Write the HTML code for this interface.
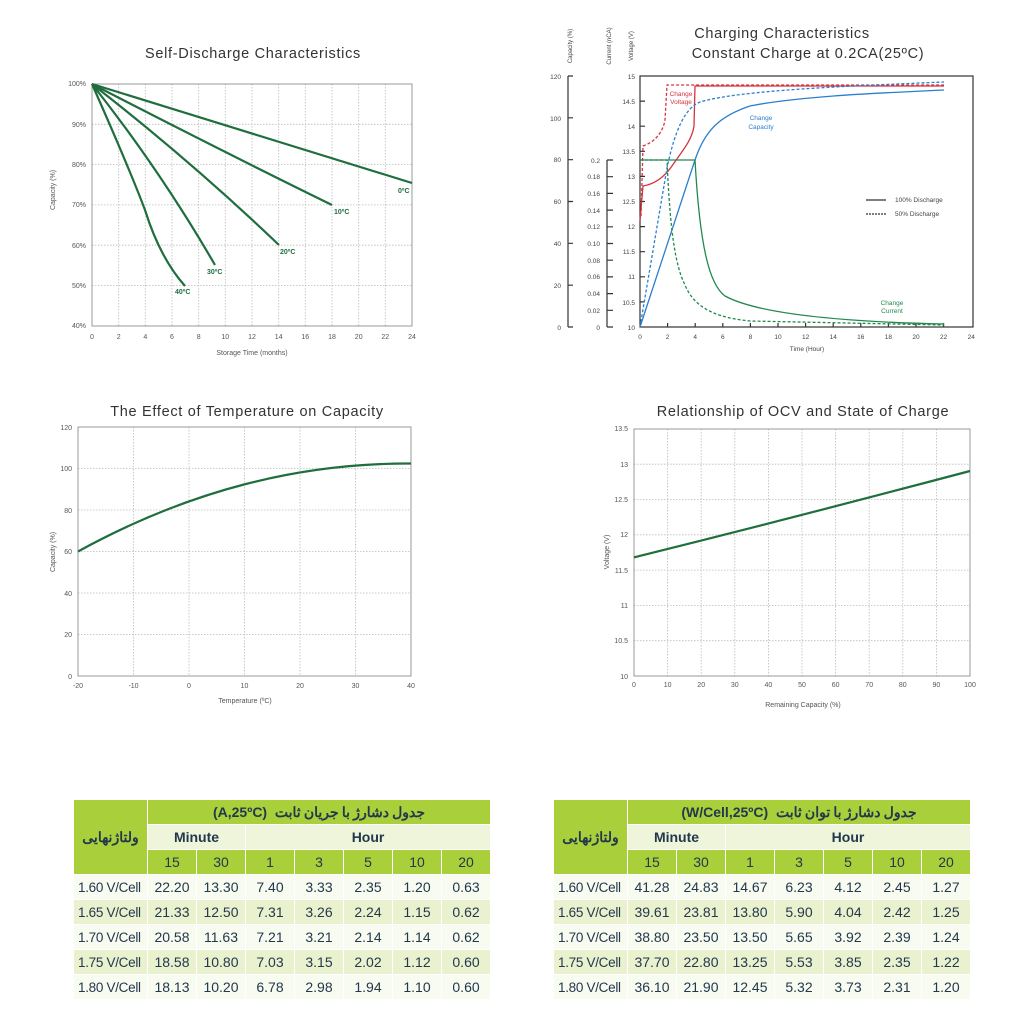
<!DOCTYPE html>
<html><head><meta charset="utf-8"><style>
body{margin:0;width:1024px;height:1024px;background:#fff;position:relative;overflow:hidden;font-family:"Liberation Sans",sans-serif}
svg{position:absolute;left:0;top:0}
.t{position:absolute;border-collapse:collapse;table-layout:fixed;font-family:"Liberation Sans","Noto Sans CJK SC",sans-serif;color:#23384d}
.t tr{height:25px}
.t td{border:1.5px solid #fff;padding:0;text-align:center;font-size:14px;white-space:nowrap;overflow:hidden}
.g{background:#a9cf3a}
.l{background:#eef5da}
.o{background:#f8fbf0}
.e{background:#e9f1cf}
.b{font-weight:bold;font-size:14.5px}
.fc{text-align:left!important;padding-left:4px!important;font-size:13.5px!important;letter-spacing:-0.3px}
</style></head><body>
<svg width="1024" height="1024" font-family="Liberation Sans, sans-serif">
<g fill="#333" font-size="14.5" text-anchor="middle" letter-spacing="0.7">
<text x="253" y="58">Self-Discharge Characteristics</text>
<text x="782" y="38">Charging Characteristics</text>
<text x="808" y="58">Constant Charge at 0.2CA(25ºC)</text>
<text x="247" y="416">The Effect of Temperature on Capacity</text>
<text x="803" y="416">Relationship of OCV and State of Charge</text>
</g>
<g stroke="#bbb" stroke-width="0.8" stroke-dasharray="1.5 1.5" fill="none">
<path d="M118.7,84V326M145.3,84V326M172,84V326M198.7,84V326M225.3,84V326M252,84V326M278.7,84V326M305.3,84V326M332,84V326M358.7,84V326M385.3,84V326M92,124.3H412M92,164.6H412M92,204.9H412M92,245.2H412M92,285.5H412"/>
<path d="M133.5,427V676M189,427V676M244.5,427V676M300,427V676M355.5,427V676M78,634.5H411M78,593H411M78,551.5H411M78,510H411M78,468.5H411"/>
<path d="M667.6,429V676M701.2,429V676M734.8,429V676M768.4,429V676M802,429V676M835.6,429V676M869.2,429V676M902.8,429V676M936.4,429V676M634,640.7H970M634,605.4H970M634,570.1H970M634,534.8H970M634,499.5H970M634,464.2H970"/>
</g>
<g fill="none" stroke="#999" stroke-width="1">
<rect x="92" y="84" width="320" height="242"/>
<rect x="78" y="427" width="333" height="249"/>
<rect x="634" y="429" width="336" height="247"/>
</g>
<g fill="none" stroke="#1f6e3e" stroke-width="2.2">
<path d="M92,84 L412,183"/>
<path d="M92,84 Q220,150 332,205"/>
<path d="M92,84 Q190,160 279,245"/>
<path d="M92,84 Q160,170 215,265"/>
<path d="M92,84 Q130,170 145,210 Q160,258 185,286"/>
<path d="M78,551.5 C190,490 300,463 411,463.5"/>
<path d="M634,557.4 Q800,516 970,471"/>
</g>
<g fill="#1f6e3e" font-size="7" font-weight="bold">
<text x="398" y="193">0ºC</text><text x="334" y="214">10ºC</text><text x="280" y="254">20ºC</text><text x="207" y="274">30ºC</text><text x="175" y="294">40ºC</text>
</g>
<g fill="#555" font-size="7" text-anchor="middle">
<text x="92" y="339">0</text><text x="118.7" y="339">2</text><text x="145.3" y="339">4</text><text x="172" y="339">6</text><text x="198.7" y="339">8</text><text x="225.3" y="339">10</text><text x="252" y="339">12</text><text x="278.7" y="339">14</text><text x="305.3" y="339">16</text><text x="332" y="339">18</text><text x="358.7" y="339">20</text><text x="385.3" y="339">22</text><text x="412" y="339">24</text>
<text x="252" y="355">Storage Time (months)</text>
<text x="78" y="688">-20</text><text x="133.5" y="688">-10</text><text x="189" y="688">0</text><text x="244.5" y="688">10</text><text x="300" y="688">20</text><text x="355.5" y="688">30</text><text x="411" y="688">40</text>
<text x="245" y="703">Temperature (ºC)</text>
<text x="634" y="687">0</text><text x="667.6" y="687">10</text><text x="701.2" y="687">20</text><text x="734.8" y="687">30</text><text x="768.4" y="687">40</text><text x="802" y="687">50</text><text x="835.6" y="687">60</text><text x="869.2" y="687">70</text><text x="902.8" y="687">80</text><text x="936.4" y="687">90</text><text x="970" y="687">100</text>
<text x="803" y="707">Remaining Capacity (%)</text>
<text transform="translate(55,190) rotate(-90)">Capacity (%)</text>
<text transform="translate(55,552) rotate(-90)">Capacity (%)</text>
<text transform="translate(609,552) rotate(-90)">Voltage (V)</text>
</g>
<g fill="#555" font-size="7" text-anchor="end">
<text x="86" y="86">100%</text><text x="86" y="127">90%</text><text x="86" y="167">80%</text><text x="86" y="207">70%</text><text x="86" y="248">60%</text><text x="86" y="288">50%</text><text x="86" y="328">40%</text>
<text x="72" y="430">120</text><text x="72" y="471">100</text><text x="72" y="513">80</text><text x="72" y="554">60</text><text x="72" y="596">40</text><text x="72" y="637">20</text><text x="72" y="679">0</text>
<text x="628" y="431">13.5</text><text x="628" y="467">13</text><text x="628" y="502">12.5</text><text x="628" y="537">12</text><text x="628" y="573">11.5</text><text x="628" y="608">11</text><text x="628" y="643">10.5</text><text x="628" y="679">10</text>
</g>
<g fill="none" stroke="#333" stroke-width="1.2">
<rect x="640" y="76" width="333" height="251"/>
<path d="M568,76V327M568,76h5M568,117.8h5M568,159.7h5M568,201.5h5M568,243.3h5M568,285.2h5M568,327h5"/>
<path d="M607,160V327M607,160h6M607,176.7h6M607,193.4h6M607,210.1h6M607,226.8h6M607,243.5h6M607,260.2h6M607,276.9h6M607,293.6h6M607,310.3h6M607,327h6"/>
<path d="M640,101.1h5M640,126.2h5M640,151.3h5M640,176.4h5M640,201.5h5M640,226.6h5M640,251.7h5M640,276.8h5M640,301.9h5M667.6,327v-4M695.2,327v-4M722.8,327v-4M750.4,327v-4M778,327v-4M805.6,327v-4M833.2,327v-4M860.8,327v-4M888.4,327v-4M916,327v-4M943.6,327v-4"/>
</g>
<g fill="#444" font-size="6.5" text-anchor="end">
<text x="561" y="79">120</text><text x="561" y="121">100</text><text x="561" y="162">80</text><text x="561" y="204">60</text><text x="561" y="246">40</text><text x="561" y="288">20</text><text x="561" y="330">0</text>
<text x="600" y="163">0.2</text><text x="600" y="179">0.18</text><text x="600" y="196">0.16</text><text x="600" y="213">0.14</text><text x="600" y="229">0.12</text><text x="600" y="246">0.10</text><text x="600" y="263">0.08</text><text x="600" y="279">0.06</text><text x="600" y="296">0.04</text><text x="600" y="313">0.02</text><text x="600" y="330">0</text>
<text x="635" y="79">15</text><text x="635" y="104">14.5</text><text x="635" y="129">14</text><text x="635" y="154">13.5</text><text x="635" y="179">13</text><text x="635" y="204">12.5</text><text x="635" y="229">12</text><text x="635" y="254">11.5</text><text x="635" y="279">11</text><text x="635" y="305">10.5</text><text x="635" y="330">10</text>
</g>
<g fill="#444" font-size="6.5" text-anchor="middle">
<text x="640" y="339">0</text><text x="667.6" y="339">2</text><text x="695.2" y="339">4</text><text x="722.8" y="339">6</text><text x="750.4" y="339">8</text><text x="778" y="339">10</text><text x="805.6" y="339">12</text><text x="833.2" y="339">14</text><text x="860.8" y="339">16</text><text x="888.4" y="339">18</text><text x="916" y="339">20</text><text x="943.6" y="339">22</text><text x="971.2" y="339">24</text>
<text x="807" y="351">Time (Hour)</text>
<text transform="translate(572,46) rotate(-90)" font-size="6">Capacity (%)</text>
<text transform="translate(611,46) rotate(-90)" font-size="6">Current (nCA)</text>
<text transform="translate(633,46) rotate(-90)" font-size="6">Voltage (V)</text>
</g>
<g fill="none" stroke-width="1.3">
<path stroke="#d4343f" d="M640,221 L643,186 C655,184 665,176 672,166 C683,150 692,140 694,126 L695,86 L944,86"/>
<path stroke="#d4343f" stroke-dasharray="3 2" d="M641,216 L643,146 C655,142 663,132 665,120 L667,85 L944,85"/>
<path stroke="#2a7fcf" d="M640,327 L695,160 C705,130 720,116 750,106 C800,96 880,93 944,90"/>
<path stroke="#2a7fcf" stroke-dasharray="3 2" d="M640,327 L667,168 C675,130 685,108 700,102 C740,90 850,86 944,82"/>
<path stroke="#22894e" d="M640,160 L695,160 C700,250 710,285 725,296 C760,315 850,322 944,324"/>
<path stroke="#22894e" stroke-dasharray="3 2" d="M640,160 L667,160 C670,230 675,265 685,285 C695,310 720,318 750,321 L944,325"/>
<path stroke="#333" d="M866,200h20"/>
<path stroke="#333" stroke-dasharray="2 1" d="M866,214h20"/>
</g>
<g font-size="6.5" text-anchor="middle">
<text x="681" y="96" fill="#d4343f">Change</text><text x="681" y="104" fill="#d4343f">Voltage</text>
<text x="761" y="120" fill="#2a7fcf">Change</text><text x="761" y="129" fill="#2a7fcf">Capacity</text>
<text x="892" y="305" fill="#22894e">Change</text><text x="892" y="313" fill="#22894e">Current</text>
<text x="895" y="202" text-anchor="start" fill="#444">100% Discharge</text>
<text x="895" y="216" text-anchor="start" fill="#444">50% Discharge</text>
</g>
</svg>

<table class="t" style="left:73px;top:799px;width:417px">
<colgroup><col style="width:74px"><col span="7" style="width:49px"></colgroup>
<tr><td class="g b" rowspan="3" style="font-family:'Noto Sans CJK SC',sans-serif">ولتاژنهایی</td><td class="g b" colspan="7"><span dir="ltr">(A,25ºC)&nbsp;&nbsp;</span><span dir="rtl" style="font-family:'Noto Sans CJK SC',sans-serif">جدول دشارژ با جریان ثابت</span></td></tr>
<tr><td class="l b" colspan="2">Minute</td><td class="l b" colspan="5">Hour</td></tr>
<tr class="g"><td>15</td><td>30</td><td>1</td><td>3</td><td>5</td><td>10</td><td>20</td></tr>
<tr class="o"><td class="fc">1.60 V/Cell</td><td>22.20</td><td>13.30</td><td>7.40</td><td>3.33</td><td>2.35</td><td>1.20</td><td>0.63</td></tr>
<tr class="e"><td class="fc">1.65 V/Cell</td><td>21.33</td><td>12.50</td><td>7.31</td><td>3.26</td><td>2.24</td><td>1.15</td><td>0.62</td></tr>
<tr class="o"><td class="fc">1.70 V/Cell</td><td>20.58</td><td>11.63</td><td>7.21</td><td>3.21</td><td>2.14</td><td>1.14</td><td>0.62</td></tr>
<tr class="e"><td class="fc">1.75 V/Cell</td><td>18.58</td><td>10.80</td><td>7.03</td><td>3.15</td><td>2.02</td><td>1.12</td><td>0.60</td></tr>
<tr class="o"><td class="fc">1.80 V/Cell</td><td>18.13</td><td>10.20</td><td>6.78</td><td>2.98</td><td>1.94</td><td>1.10</td><td>0.60</td></tr>
</table>

<table class="t" style="left:553px;top:799px;width:417px">
<colgroup><col style="width:74px"><col span="7" style="width:49px"></colgroup>
<tr><td class="g b" rowspan="3" style="font-family:'Noto Sans CJK SC',sans-serif">ولتاژنهایی</td><td class="g b" colspan="7"><span dir="ltr">(W/Cell,25ºC)&nbsp;&nbsp;</span><span dir="rtl" style="font-family:'Noto Sans CJK SC',sans-serif">جدول دشارژ با توان ثابت</span></td></tr>
<tr><td class="l b" colspan="2">Minute</td><td class="l b" colspan="5">Hour</td></tr>
<tr class="g"><td>15</td><td>30</td><td>1</td><td>3</td><td>5</td><td>10</td><td>20</td></tr>
<tr class="o"><td class="fc">1.60 V/Cell</td><td>41.28</td><td>24.83</td><td>14.67</td><td>6.23</td><td>4.12</td><td>2.45</td><td>1.27</td></tr>
<tr class="e"><td class="fc">1.65 V/Cell</td><td>39.61</td><td>23.81</td><td>13.80</td><td>5.90</td><td>4.04</td><td>2.42</td><td>1.25</td></tr>
<tr class="o"><td class="fc">1.70 V/Cell</td><td>38.80</td><td>23.50</td><td>13.50</td><td>5.65</td><td>3.92</td><td>2.39</td><td>1.24</td></tr>
<tr class="e"><td class="fc">1.75 V/Cell</td><td>37.70</td><td>22.80</td><td>13.25</td><td>5.53</td><td>3.85</td><td>2.35</td><td>1.22</td></tr>
<tr class="o"><td class="fc">1.80 V/Cell</td><td>36.10</td><td>21.90</td><td>12.45</td><td>5.32</td><td>3.73</td><td>2.31</td><td>1.20</td></tr>
</table>
</body></html>
